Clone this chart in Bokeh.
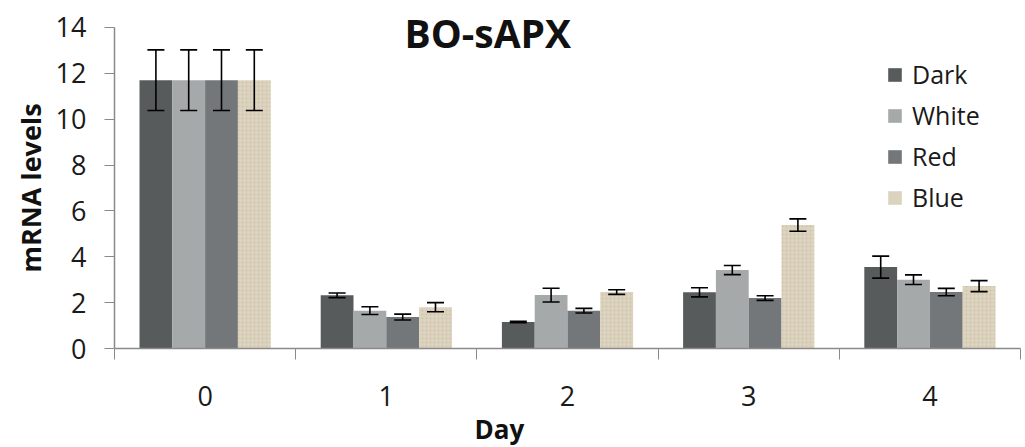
from bokeh.plotting import figure
from bokeh.models import ColumnDataSource, Whisker, TeeHead, FixedTicker, Range1d, Legend, LegendItem, Label, Title
from bokeh.embed import file_html
from bokeh.resources import INLINE

days = ["0", "1", "2", "3", "4"]
series = ["Dark", "White", "Red", "Blue"]
dark = [11.7, 2.32, 1.16, 2.45, 3.55]
white = [11.7, 1.65, 2.33, 3.42, 3.00]
red = [11.7, 1.37, 1.65, 2.20, 2.46]
blue = [11.7, 1.80, 2.46, 5.38, 2.72]
dark_err = [1.32, 0.10, 0.03, 0.20, 0.48]
white_err = [1.32, 0.17, 0.30, 0.20, 0.21]
red_err = [1.32, 0.13, 0.10, 0.10, 0.16]
blue_err = [1.32, 0.20, 0.10, 0.27, 0.24]
y_ticks = [0, 2, 4, 6, 8, 10, 12, 14]

colors = ["#575b5c", "#a6a9aa", "#73777a", "#dcd3bf"]
values = [dark, white, red, blue]
errors = [dark_err, white_err, red_err, blue_err]

FONT = "Open Sans"

p = figure(width=1025, height=447, output_backend="svg", toolbar_location=None,
           x_range=Range1d(0, 5), y_range=Range1d(0, 15.174),
           min_border_left=114, min_border_right=5, min_border_top=0, min_border_bottom=0)
p.outline_line_color = None
p.grid.grid_line_color = None
p.background_fill_color = "white"

bw = 0.181
items = []
for k, (name, vals, errs, col) in enumerate(zip(series, values, errors, colors)):
    xs = [i + 0.5 + (k - 1.5) * bw for i in range(len(days))]
    src = ColumnDataSource(dict(x=xs, top=vals,
                                upper=[v + e for v, e in zip(vals, errs)],
                                lower=[v - e for v, e in zip(vals, errs)]))
    r = p.vbar(x="x", top="top", width=bw, bottom=0, source=src, fill_color=col,
               line_color=None)
    if name == "Blue":
        p.vbar(x="x", top="top", width=bw, bottom=0, source=src, fill_color=None,
               line_color=None, hatch_pattern="dot", hatch_color="#c4b89e",
               hatch_scale=4, hatch_alpha=0.6)
    items.append(LegendItem(label=name, renderers=[r]))
    w = Whisker(base="x", upper="upper", lower="lower", source=src, level="overlay",
                line_color="black", line_width=1.6,
                upper_head=TeeHead(size=17, line_color="black", line_width=1.6),
                lower_head=TeeHead(size=17, line_color="black", line_width=1.6))
    p.add_layout(w)

# axes
p.xaxis.ticker = FixedTicker(ticks=[i + 0.5 for i in range(len(days))],
                             minor_ticks=list(range(len(days) + 1)))
p.xaxis.major_label_overrides = {i + 0.5: d for i, d in enumerate(days)}
p.xaxis.major_tick_out = 0
p.xaxis.major_tick_in = 0
p.xaxis.minor_tick_out = 11
p.xaxis.minor_tick_in = 0
p.xaxis.minor_tick_line_color = "#8a8a8a"
p.xaxis.axis_line_color = "#8a8a8a"
p.xaxis.axis_line_width = 1.5
p.xaxis.major_label_standoff = 26
p.xaxis.major_label_text_font = FONT
p.xaxis.major_label_text_font_size = "27px"
p.xaxis.major_label_text_color = "#1a1a1a"

p.yaxis.ticker = FixedTicker(ticks=y_ticks)
p.yaxis.bounds = (0, 14)
p.yaxis.minor_tick_line_color = None
p.yaxis.major_tick_out = 10
p.yaxis.major_tick_in = 0
p.yaxis.major_tick_line_color = "#8a8a8a"
p.yaxis.axis_line_color = "#8a8a8a"
p.yaxis.axis_line_width = 1.5
p.yaxis.major_label_standoff = 18
p.yaxis.major_label_text_font = FONT
p.yaxis.major_label_text_font_size = "27px"
p.yaxis.major_label_text_color = "#1a1a1a"

ytitle = Title(text="mRNA levels", align="left", offset=76, text_font=FONT,
               text_font_style="bold", text_font_size="27px", text_color="#111111",
               standoff=8)
p.add_layout(ytitle, "left")

xtitle = Title(text="Day", align="left", offset=360, text_font=FONT,
               text_font_style="bold", text_font_size="26px", text_color="#111111",
               standoff=1)
p.add_layout(xtitle, "below")

legend = Legend(items=items, location=(772, 134), border_line_color=None,
                background_fill_alpha=0, glyph_width=17, glyph_height=17,
                label_height=17, spacing=7, label_text_font=FONT,
                label_text_font_size="25px", label_standoff=9,
                label_text_color="#1a1a1a", padding=0, margin=0)
p.add_layout(legend, "center")

title = Label(x=2.06, y=13.78, text="BO-sAPX", text_font=FONT, text_font_style="bold",
              text_font_size="39px", text_align="center", text_baseline="middle",
              text_color="#111111")
p.add_layout(title)

open("out.html", "w").write(file_html(p, INLINE))
